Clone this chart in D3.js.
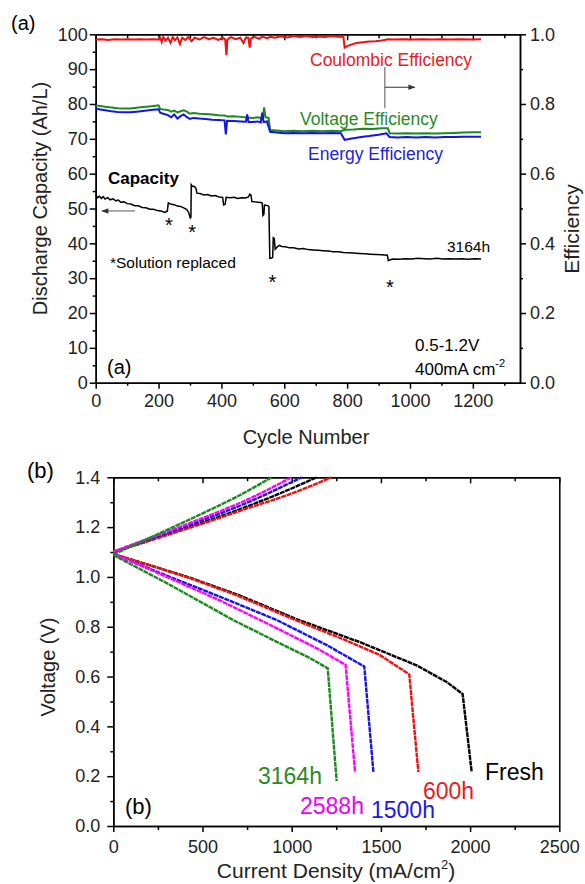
<!DOCTYPE html>
<html>
<head>
<meta charset="utf-8">
<script src="https://cdn.jsdelivr.net/npm/d3@7"></script>
<style>
  body { margin: 0; background: #fff; }
  svg text { font-family: "Liberation Sans", Arial, sans-serif; }
</style>
</head>
<body>
<svg id="chart" width="585" height="884"></svg>
<script>
// ---- panel (a) data: cycle number vs value ----
const capacity = [
  [0,53.9],[6,53.1],[12,53.5],[18,52.9],[24,53.4],[30,52.7],[38,53.1],[46,52.5],[55,52.8],[64,52.2],
  [72,52.4],[80,51.8],[90,51.9],[100,51.4],[112,51.3],[124,50.8],[136,50.8],[148,50.3],[160,50.2],
  [172,49.8],[184,49.8],[196,49.4],[208,49.3],[220,48.9],[228,49.3],[231,51.6],[240,51.2],[250,51.1],
  [260,50.7],[270,50.6],[280,50.2],[290,49.7],[296,48.8],[301,47.3],[303,47.5],[304,56.8],[308,56.3],
  [314,56.4],[319,55.8],[322,54.4],[332,54.3],[344,53.9],[356,54.0],[368,53.6],[380,53.7],[392,53.3],
  [404,53.2],[407,51.0],[412,51.2],[415,53.2],[428,53.1],[440,53.2],[452,52.9],[464,53.1],[476,53.0],
  [486,53.3],[490,54.1],[494,53.8],[497,52.0],[506,51.9],[516,51.8],[526,51.7],[530,51.5],[532,48.0],
  [535,48.3],[537,51.0],[545,50.9],[551,50.6],[554,35.7],[560,35.8],[563,36.0],[565,41.6],[568,41.4],
  [571,38.3],[577,38.9],[584,39.4],[592,39.1],[604,39.0],[616,38.7],[630,38.7],[645,38.4],[660,38.5],
  [676,38.2],[692,38.1],[708,38.0],[724,37.9],[740,37.8],[756,37.6],[772,37.6],[788,37.4],[804,37.3],
  [820,37.2],[838,37.1],[856,37.0],[874,36.9],[892,36.8],[910,36.7],[928,36.6],[931,35.1],[945,35.5],
  [965,35.4],[985,35.6],[1005,35.5],[1025,35.7],[1045,35.6],[1065,35.5],[1085,35.7],[1105,35.5],
  [1125,35.6],[1145,35.5],[1165,35.6],[1185,35.4],[1205,35.6],[1226,35.5]
];

const coulombic = [
  [0,0.985],[20,0.986],[40,0.984],[60,0.986],[80,0.985],[100,0.986],[120,0.985],[140,0.986],
  [160,0.985],[180,0.986],[200,0.985],[205,0.990],[210,0.978],[215,0.992],[222,0.982],[230,0.990],
  [238,0.976],[245,0.992],[252,0.983],[260,0.991],[268,0.972],[275,0.990],[285,0.984],[295,0.992],
  [305,0.980],[315,0.990],[330,0.985],[345,0.992],[360,0.986],[375,0.990],[390,0.984],[405,0.990],
  [412,0.985],[416,0.940],[419,0.985],[430,0.992],[445,0.986],[460,0.990],[470,0.975],[478,0.991],
  [486,0.990],[490,0.962],[494,0.988],[505,0.993],[520,0.987],[530,0.994],[545,0.988],[555,0.993],
  [570,0.990],[590,0.994],[610,0.991],[630,0.995],[650,0.992],[670,0.995],[690,0.992],[710,0.994],
  [730,0.992],[750,0.995],[770,0.993],[788,0.994],[792,0.962],[800,0.966],[815,0.971],[830,0.975],
  [850,0.977],[870,0.979],[890,0.980],[910,0.982],[930,0.986],[950,0.985],[980,0.986],[1010,0.985],
  [1040,0.986],[1070,0.985],[1100,0.986],[1130,0.985],[1160,0.986],[1190,0.985],[1226,0.986]
];

const voltageEff = [
  [0,0.796],[15,0.794],[30,0.792],[50,0.790],[70,0.788],[90,0.787],[110,0.787],[130,0.789],
  [150,0.791],[170,0.793],[190,0.795],[200,0.796],[205,0.786],[215,0.784],[230,0.783],[240,0.778],
  [250,0.781],[260,0.776],[270,0.779],[280,0.782],[290,0.778],[300,0.772],[310,0.774],[330,0.772],
  [350,0.771],[370,0.770],[390,0.768],[410,0.767],[420,0.764],[440,0.765],[460,0.763],[480,0.761],
  [500,0.760],[515,0.762],[525,0.760],[532,0.762],[536,0.790],[540,0.762],[550,0.760],[555,0.725],
  [575,0.724],[600,0.722],[630,0.723],[660,0.722],[690,0.723],[720,0.722],[750,0.723],[780,0.722],
  [792,0.726],[820,0.727],[850,0.729],[880,0.728],[910,0.730],[930,0.730],[935,0.716],[960,0.715],
  [990,0.716],[1020,0.715],[1050,0.716],[1080,0.715],[1110,0.716],[1140,0.717],[1170,0.718],
  [1200,0.719],[1226,0.719]
];

const energyEff = [
  [0,0.786],[15,0.784],[30,0.782],[50,0.779],[70,0.777],[90,0.776],[110,0.776],[130,0.778],
  [150,0.780],[170,0.782],[190,0.784],[200,0.785],[205,0.775],[215,0.772],[230,0.768],[240,0.762],
  [250,0.770],[260,0.758],[270,0.765],[280,0.770],[290,0.762],[300,0.757],[310,0.760],[330,0.758],
  [350,0.757],[370,0.755],[390,0.754],[410,0.753],[414,0.713],[418,0.752],[440,0.751],[460,0.750],
  [478,0.749],[482,0.770],[486,0.748],[500,0.748],[515,0.750],[525,0.747],[530,0.775],[534,0.748],
  [545,0.750],[555,0.720],[575,0.718],[600,0.716],[630,0.717],[660,0.716],[690,0.717],[720,0.716],
  [750,0.717],[780,0.716],[792,0.697],[810,0.700],[830,0.703],[850,0.706],[870,0.708],[900,0.712],
  [925,0.716],[935,0.705],[960,0.704],[990,0.705],[1020,0.704],[1050,0.705],[1080,0.704],
  [1110,0.705],[1140,0.705],[1170,0.706],[1200,0.706],[1226,0.706]
];

// solution replaced markers (cycle, capacity)
const replacedAt = [[233,46.4],[307,44.4],[562,30.0],[936,28.6]];

// ---- panel (b) data: current density (mA/cm2) vs voltage (V) ----
const freshCharge = [[0,1.100],[250,1.158],[500,1.218],[750,1.283],[950,1.340],[1140,1.400]];
const freshDischarge = [[0,1.092],[200,1.048],[430,0.997],[700,0.928],[1030,0.830],[1383,0.738],
  [1700,0.645],[1869,0.578],[1958,0.530],[2009,0.216]];
const h600Charge = [[0,1.100],[250,1.156],[500,1.214],[750,1.275],[1000,1.335],[1224,1.400]];
const h600Discharge = [[0,1.092],[200,1.047],[430,0.995],[700,0.924],[1030,0.824],[1299,0.747],
  [1495,0.686],[1659,0.609],[1710,0.216]];
const h1500Charge = [[0,1.100],[250,1.163],[500,1.228],[750,1.298],[1056,1.400]];
const h1500Discharge = [[0,1.092],[300,1.005],[600,0.920],[916,0.827],[1200,0.725],[1407,0.640],
  [1458,0.216]];
const h2588Charge = [[0,1.102],[250,1.168],[500,1.236],[750,1.310],[1000,1.400]];
const h2588Discharge = [[0,1.094],[300,1.000],[600,0.905],[900,0.800],[1150,0.710],[1302,0.647],
  [1355,0.216]];
const h3164Charge = [[0,1.090],[250,1.172],[500,1.255],[700,1.325],[888,1.400]];
const h3164Discharge = [[0,1.088],[300,0.975],[672,0.827],[900,0.745],[1100,0.675],[1202,0.633],
  [1252,0.180]];

const svg = d3.select("#chart");

// helper: style an axis group
function styleAxis(g, fontSize) {
    g.selectAll("path, line").attr("stroke", "#000").attr("stroke-width", 1.5);
    g.selectAll("text").attr("font-size", fontSize).attr("fill", "#222")
        .attr("font-family", "'Liberation Sans', Arial, sans-serif");
}

function range(a, b, step) {
    return d3.range(a, b + step / 2, step);
}

// =================== panel (a) ===================
const xA = d3.scaleLinear().domain([0, 1350]).range([95.7, 520]);
const yA = d3.scaleLinear().domain([0, 100]).range([382.7, 34.3]);
const yE = d3.scaleLinear().domain([0, 1]).range([382.7, 34.3]);

const gA = svg.append("g");

// minor ticks first
gA.append("g").attr("transform", "translate(0,382.7)")
  .call(d3.axisBottom(xA).tickValues(range(100, 1300, 200)).tickSize(3).tickSizeOuter(0).tickFormat(""))
  .call(g => styleAxis(g, 18));
gA.append("g").attr("transform", "translate(0,382.7)")
  .call(d3.axisBottom(xA).tickValues(range(0, 1200, 200)).tickSize(6).tickSizeOuter(0).tickPadding(6)
        .tickFormat(d3.format("d")))
  .call(g => styleAxis(g, 18));

gA.append("g").attr("transform", "translate(0,34.3)")
  .call(d3.axisTop(xA).tickValues(range(100, 1300, 200)).tickSize(-4).tickSizeOuter(0).tickFormat(""))
  .call(g => styleAxis(g, 18));
gA.append("g").attr("transform", "translate(0,34.3)")
  .call(d3.axisTop(xA).tickValues(range(0, 1200, 200)).tickSize(-6).tickSizeOuter(0).tickFormat(""))
  .call(g => styleAxis(g, 18));

gA.append("g").attr("transform", "translate(95.7,0)")
  .call(d3.axisLeft(yA).tickValues(range(5, 95, 10)).tickSize(3).tickSizeOuter(0).tickFormat(""))
  .call(g => styleAxis(g, 18));
gA.append("g").attr("transform", "translate(95.7,0)")
  .call(d3.axisLeft(yA).tickValues(range(0, 100, 10)).tickSize(6).tickSizeOuter(0).tickPadding(2)
        .tickFormat(d3.format("d")))
  .call(g => styleAxis(g, 18));

gA.append("g").attr("transform", "translate(520,0)")
  .call(d3.axisRight(yE).tickValues(range(0.1, 0.9, 0.2)).tickSize(3).tickSizeOuter(0).tickFormat(""))
  .call(g => styleAxis(g, 18));
gA.append("g").attr("transform", "translate(520,0)")
  .call(d3.axisRight(yE).tickValues(range(0, 1, 0.2)).tickSize(6).tickSizeOuter(0).tickPadding(4)
        .tickFormat(d3.format(".1f")))
  .call(g => styleAxis(g, 18));

// series lines
const lineCap = d3.line().x(d => xA(d[0])).y(d => yA(d[1]));
const lineEff = d3.line().x(d => xA(d[0])).y(d => yE(d[1]));

gA.append("path").datum(coulombic).attr("d", lineEff)
  .attr("fill", "none").attr("stroke", "#f01010").attr("stroke-width", 2);
gA.append("path").datum(voltageEff).attr("d", lineEff)
  .attr("fill", "none").attr("stroke", "#1d8a1d").attr("stroke-width", 2);
gA.append("path").datum(energyEff).attr("d", lineEff)
  .attr("fill", "none").attr("stroke", "#1414e6").attr("stroke-width", 2);
gA.append("path").datum(capacity).attr("d", lineCap)
  .attr("fill", "none").attr("stroke", "#000").attr("stroke-width", 1.5);

// stars where the solution was replaced
gA.selectAll(".star").data(replacedAt).enter().append("text")
  .attr("class", "star")
  .attr("x", d => xA(d[0])).attr("y", d => yA(d[1]) + 11)
  .attr("text-anchor", "middle").attr("font-size", 20).text("*");

// annotations
gA.append("text").attr("x", 310).attr("y", 66).attr("font-size", 17.5).attr("fill", "#e81c1c")
  .text("Coulombic Efficiency");
gA.append("text").attr("x", 300).attr("y", 125).attr("font-size", 17.5).attr("fill", "#2a8a2a")
  .text("Voltage Efficiency");
gA.append("text").attr("x", 308).attr("y", 160).attr("font-size", 17.5).attr("fill", "#2424d8")
  .text("Energy Efficiency");
gA.append("text").attr("x", 108).attr("y", 184).attr("font-size", 17).attr("font-weight", "bold")
  .text("Capacity");
gA.append("text").attr("x", 110).attr("y", 268).attr("font-size", 15.5).text("*Solution replaced");
gA.append("text").attr("x", 447).attr("y", 252).attr("font-size", 15.5).text("3164h");
gA.append("text").attr("x", 415).attr("y", 351).attr("font-size", 17).text("0.5-1.2V");
const cond = gA.append("text").attr("x", 415).attr("y", 375).attr("font-size", 17).text("400mA cm");
cond.append("tspan").attr("dy", -8).attr("font-size", 11).text("-2");
gA.append("text").attr("x", 107).attr("y", 374).attr("font-size", 20).text("(a)");

// pointer to the right axis
const defs = svg.append("defs");
defs.append("marker").attr("id", "head").attr("viewBox", "0 0 10 10")
  .attr("refX", 9).attr("refY", 5).attr("markerWidth", 9).attr("markerHeight", 7)
  .attr("orient", "auto-start-reverse")
  .append("path").attr("d", "M0,1L10,5L0,9Z").attr("fill", "#333");

gA.append("line").attr("x1", xA(920)).attr("x2", xA(920)).attr("y1", yE(0.906)).attr("y2", yE(0.788))
  .attr("stroke", "#555").attr("stroke-width", 1);
gA.append("line").attr("x1", xA(920)).attr("x2", xA(1015)).attr("y1", yE(0.848)).attr("y2", yE(0.848))
  .attr("stroke", "#333").attr("stroke-width", 1).attr("marker-end", "url(#head)");
gA.append("line").attr("x1", xA(125)).attr("x2", xA(20)).attr("y1", yA(49.3)).attr("y2", yA(49.3))
  .attr("stroke", "#555").attr("stroke-width", 1).attr("marker-end", "url(#head)");

// axis titles
svg.append("text").attr("transform", "translate(47,198.5) rotate(-90)")
  .attr("text-anchor", "middle").attr("font-size", 20).attr("fill", "#222")
  .text("Discharge Capacity (Ah/L)");
svg.append("text").attr("transform", "translate(579,229) rotate(-90)")
  .attr("text-anchor", "middle").attr("font-size", 21).attr("fill", "#222").text("Efficiency");
svg.append("text").attr("x", 306).attr("y", 444).attr("text-anchor", "middle")
  .attr("font-size", 20).attr("fill", "#222").text("Cycle Number");
svg.append("text").attr("x", 11).attr("y", 30).attr("font-size", 20).text("(a)");

// =================== panel (b) ===================
const xB = d3.scaleLinear().domain([0, 2500]).range([113.3, 559.3]);
const yB = d3.scaleLinear().domain([0, 1.4]).range([826, 477.3]);

const gB = svg.append("g");

gB.append("g").attr("transform", "translate(0,826)")
  .call(d3.axisBottom(xB).tickValues(range(250, 2250, 500)).tickSize(4).tickSizeOuter(0).tickFormat(""))
  .call(g => styleAxis(g, 18));
gB.append("g").attr("transform", "translate(0,826)")
  .call(d3.axisBottom(xB).tickValues(range(0, 2500, 500)).tickSize(6).tickSizeOuter(0).tickPadding(8)
        .tickFormat(d3.format("d")))
  .call(g => styleAxis(g, 18));

gB.append("g").attr("transform", "translate(0,477.3)")
  .call(d3.axisTop(xB).tickValues(range(250, 2250, 500)).tickSize(-4).tickSizeOuter(0).tickFormat(""))
  .call(g => styleAxis(g, 18));
gB.append("g").attr("transform", "translate(0,477.3)")
  .call(d3.axisTop(xB).tickValues(range(0, 2500, 500)).tickSize(-6).tickSizeOuter(0).tickFormat(""))
  .call(g => styleAxis(g, 18));

gB.append("g").attr("transform", "translate(113.3,0)")
  .call(d3.axisLeft(yB).tickValues(range(0.1, 1.3, 0.2)).tickSize(3).tickSizeOuter(0).tickFormat(""))
  .call(g => styleAxis(g, 18));
gB.append("g").attr("transform", "translate(113.3,0)")
  .call(d3.axisLeft(yB).tickValues(range(0, 1.4, 0.2)).tickSize(6).tickSizeOuter(0).tickPadding(7)
        .tickFormat(d3.format(".1f")))
  .call(g => styleAxis(g, 18));

gB.append("g").attr("transform", "translate(559.3,0)")
  .call(d3.axisRight(yB).tickValues([]).tickSizeOuter(0))
  .call(g => styleAxis(g, 18));

// charge branches smoothed, discharge kept straight so the knee stays sharp
const lineSmooth = d3.line().x(d => xB(d[0])).y(d => yB(d[1])).curve(d3.curveMonotoneX);
const lineStraight = d3.line().x(d => xB(d[0])).y(d => yB(d[1]));

const polCurves = [
  { charge: freshCharge, discharge: freshDischarge, color: "#000" },
  { charge: h600Charge, discharge: h600Discharge, color: "#f01010" },
  { charge: h1500Charge, discharge: h1500Discharge, color: "#1414e6" },
  { charge: h2588Charge, discharge: h2588Discharge, color: "#ff00ff" },
  { charge: h3164Charge, discharge: h3164Discharge, color: "#1d8a1d" }
];

polCurves.forEach(c => {
    gB.append("path").datum(c.charge).attr("d", lineSmooth)
      .attr("fill", "none").attr("stroke", c.color).attr("stroke-width", 2.4)
      .attr("stroke-dasharray", "5,0.7");
    gB.append("path").datum(c.discharge).attr("d", lineStraight)
      .attr("fill", "none").attr("stroke", c.color).attr("stroke-width", 2.4)
      .attr("stroke-dasharray", "5,0.7");
});

// curve labels
gB.append("text").attr("x", 485).attr("y", 780).attr("font-size", 23).attr("fill", "#000").text("Fresh");
gB.append("text").attr("x", 423).attr("y", 799).attr("font-size", 23).attr("fill", "#e81c1c").text("600h");
gB.append("text").attr("x", 371).attr("y", 818).attr("font-size", 23).attr("fill", "#1c1ce0").text("1500h");
gB.append("text").attr("x", 300).attr("y", 814).attr("font-size", 23).attr("fill", "#f000f0").text("2588h");
gB.append("text").attr("x", 258).attr("y", 784).attr("font-size", 23).attr("fill", "#2a8a2a").text("3164h");
gB.append("text").attr("x", 125).attr("y", 814).attr("font-size", 22).text("(b)");

// axis titles
svg.append("text").attr("transform", "translate(55,667) rotate(-90)")
  .attr("text-anchor", "middle").attr("font-size", 20).attr("fill", "#222").text("Voltage (V)");
const xt = svg.append("text").attr("x", 336).attr("y", 878).attr("text-anchor", "middle")
  .attr("font-size", 21).attr("fill", "#222").text("Current Density (mA/cm");
xt.append("tspan").attr("dy", -9).attr("font-size", 13).text("2");
xt.append("tspan").attr("dy", 9).text(")");
svg.append("text").attr("x", 27).attr("y", 478).attr("font-size", 22).text("(b)");
</script>
</body>
</html>
